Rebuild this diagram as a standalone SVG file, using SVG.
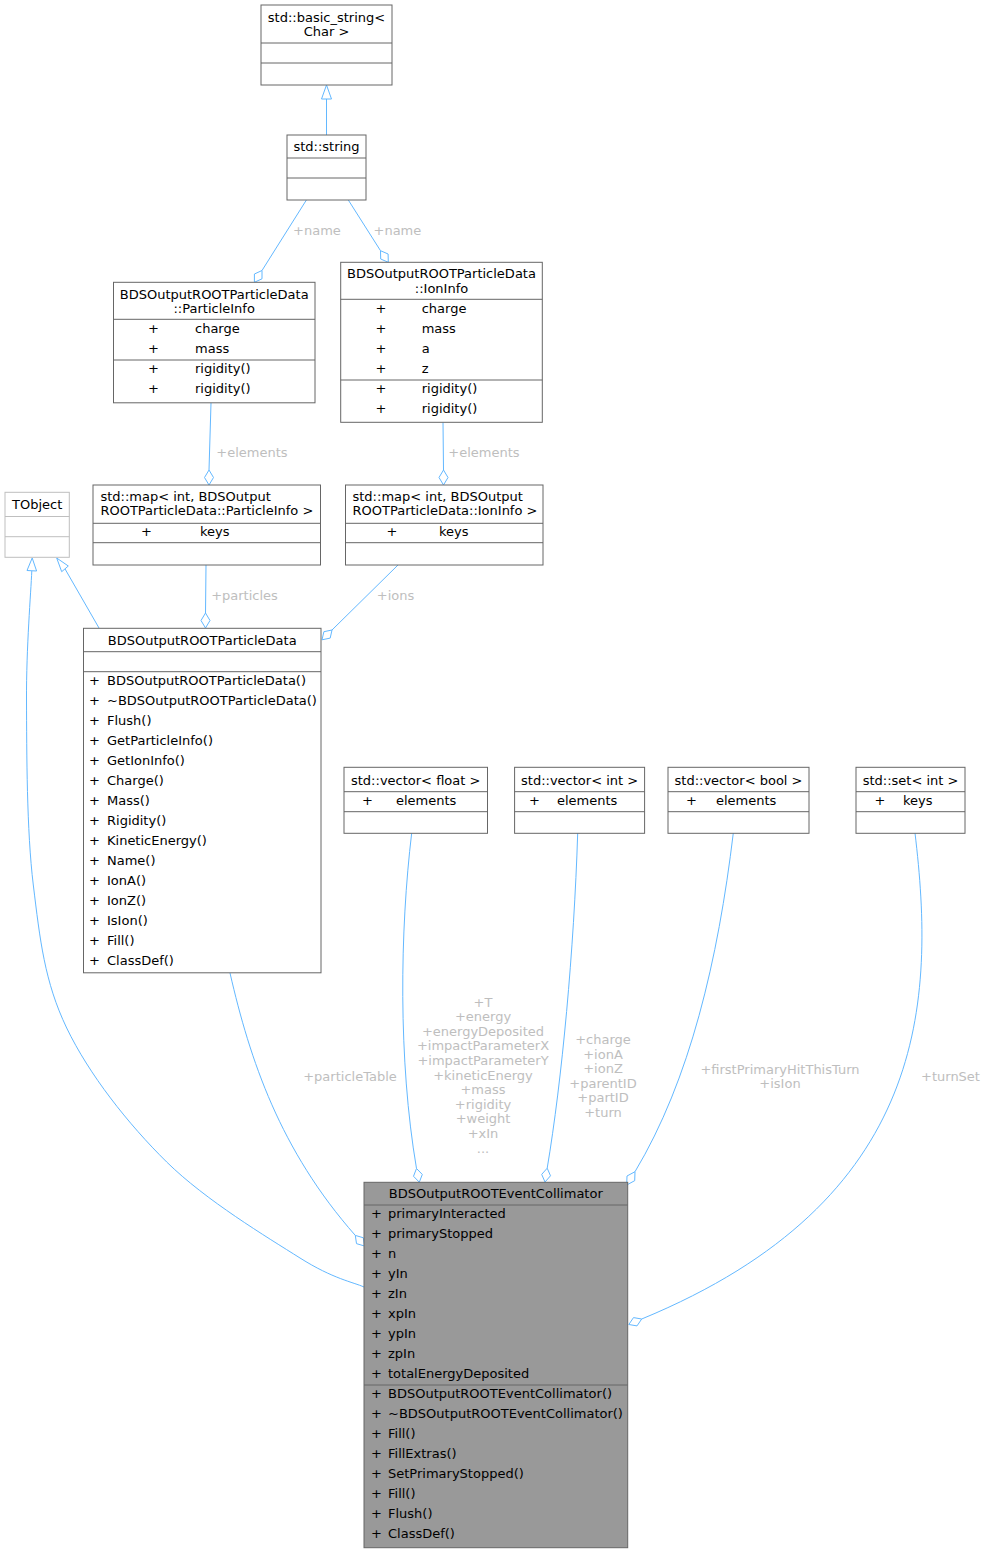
<svg xmlns="http://www.w3.org/2000/svg" width="985" height="1553" viewBox="0 0 985 1553">
<style>
.b{fill:#fff;stroke:#666;stroke-width:1}
.g{fill:#fff;stroke:#bfbfbf;stroke-width:1}
.m{fill:#999;stroke:#666;stroke-width:1}
.s{stroke:#666;stroke-width:1}
.sg{stroke:#bfbfbf;stroke-width:1}
text{font-family:"DejaVu Sans",sans-serif;font-size:13px;fill:#000}
.c{text-anchor:middle}
.l{fill:#bebebe;text-anchor:middle}
.e{fill:none;stroke:#63b8ff;stroke-width:1}
.h{fill:#fff;stroke:#63b8ff;stroke-width:1}
</style>
<rect width="985" height="1553" fill="#fff"/>
<g id="connectors">
<path class="e" d="M326.5,135 L326.5,99"/>
<polygon class="h" points="326.5,85 331.5,99 321.5,99"/>
<path class="e" d="M306.4,200 L262,270.5"/>
<polygon class="h" points="262,270.5 262,278.8 254.4,282.3 254.4,274"/>
<path class="e" d="M348.3,200 L380.5,250.7"/>
<polygon class="h" points="380.5,250.7 388.1,254 388.3,262.3 380.7,259"/>
<path class="e" d="M211,403 L209,470"/>
<polygon class="h" points="209,470 213.5,477.5 209,485 204.5,477.5"/>
<path class="e" d="M443,422.3 L443.5,470"/>
<polygon class="h" points="443.5,470 448,477.5 443.5,485 439,477.5"/>
<path class="e" d="M206,565 L205.5,613"/>
<polygon class="h" points="205.5,613 210,620.5 205.5,628 201,620.5"/>
<path class="e" d="M398,565 L332,630"/>
<polygon class="h" points="332,630 330.2,638.1 322,639.8 323.9,631.7"/>
<path class="e" d="M99,628 L65,568.9"/>
<polygon class="h" points="56.7,558 68.3,566 61.7,571.7"/>
<path class="e" d="M31.8,571 C30.9,592.5 26.25,647.7 26.5,700 C26.75,752.3 26.6,830.3 33.3,885 C40,939.7 44.5,981.8 66.7,1028 C88.9,1074.2 127.8,1123.7 166.7,1162 C205.6,1200.3 267.1,1237.2 300,1258 C332.9,1278.8 353.3,1282.2 364,1287"/>
<polygon class="h" points="32.2,558 36.6,571 27,570.5"/>
<path class="e" d="M230,973 C250,1060 280,1150 355.3,1235.4"/>
<polygon class="h" points="355.3,1235.4 363.3,1237.75 364.5,1246 356.5,1243.65"/>
<path class="e" d="M411.7,833 C400,930 398,1060 416.5,1168.5"/>
<polygon class="h" points="416.5,1168.5 422.3,1174.45 419.3,1182.2 413.5,1176.25"/>
<path class="e" d="M577.7,833 C574,950 562,1080 547.2,1168.2"/>
<polygon class="h" points="547.2,1168.2 550.5,1175.8 545,1182 541.7,1174.4"/>
<path class="e" d="M733.3,833 C718,960 690,1080 635,1171.7"/>
<polygon class="h" points="635,1171.7 634.7,1180.7 626.7,1185 627,1176"/>
<path class="e" d="M915,833 C935,1000 930,1200 641.7,1319"/>
<polygon class="h" points="641.7,1319 637,1325.9 628.8,1324.5 633.5,1317.6"/>
<text class="l" x="317" y="235">+name</text>
<text class="l" x="397.4" y="235">+name</text>
<text class="l" x="252" y="457">+elements</text>
<text class="l" x="484" y="457">+elements</text>
<text class="l" x="244.5" y="600">+particles</text>
<text class="l" x="395.5" y="599.5">+ions</text>
<text class="l" x="350" y="1081">+particleTable</text>
<text class="l" x="483" y="1006.5">+T</text>
<text class="l" x="483" y="1021.1">+energy</text>
<text class="l" x="483" y="1035.7">+energyDeposited</text>
<text class="l" x="483" y="1050.3">+impactParameterX</text>
<text class="l" x="483" y="1064.9">+impactParameterY</text>
<text class="l" x="483" y="1079.5">+kineticEnergy</text>
<text class="l" x="483" y="1094.1">+mass</text>
<text class="l" x="483" y="1108.7">+rigidity</text>
<text class="l" x="483" y="1123.3">+weight</text>
<text class="l" x="483" y="1137.9">+xIn</text>
<text class="l" x="483" y="1152.5">...</text>
<text class="l" x="603" y="1044">+charge</text>
<text class="l" x="603" y="1058.6">+ionA</text>
<text class="l" x="603" y="1073.2">+ionZ</text>
<text class="l" x="603" y="1087.8">+parentID</text>
<text class="l" x="603" y="1102.4">+partID</text>
<text class="l" x="603" y="1117">+turn</text>
<text class="l" x="780" y="1073.5">+firstPrimaryHitThisTurn</text>
<text class="l" x="780" y="1088.1">+isIon</text>
<text class="l" x="950.5" y="1081">+turnSet</text>
</g>
<g id="basic_string">
<rect class="b" x="261" y="5" width="131" height="80"/>
<line class="s" x1="261" y1="43" x2="392" y2="43"/>
<line class="s" x1="261" y1="63" x2="392" y2="63"/>
<text class="c" x="326.5" y="21.5">std::basic_string&lt;</text>
<text class="c" x="326.5" y="36">Char &gt;</text>
</g>
<g id="string">
<rect class="b" x="287" y="135" width="79" height="65"/>
<line class="s" x1="287" y1="158" x2="366" y2="158"/>
<line class="s" x1="287" y1="178" x2="366" y2="178"/>
<text class="c" x="326.5" y="151">std::string</text>
</g>
<g id="ParticleInfo">
<rect class="b" x="113.5" y="282.3" width="201.5" height="120.5"/>
<line class="s" x1="113.5" y1="319.3" x2="315" y2="319.3"/>
<line class="s" x1="113.5" y1="360" x2="315" y2="360"/>
<text class="c" x="214.2" y="298.5">BDSOutputROOTParticleData</text>
<text class="c" x="214.2" y="312.5">::ParticleInfo</text>
<text x="148" y="333">+</text><text x="195" y="333">charge</text>
<text x="148" y="353">+</text><text x="195" y="353">mass</text>
<text x="148" y="373">+</text><text x="195" y="373">rigidity()</text>
<text x="148" y="393">+</text><text x="195" y="393">rigidity()</text>
</g>
<g id="IonInfo">
<rect class="b" x="340.7" y="262.3" width="201.6" height="160"/>
<line class="s" x1="340.7" y1="299.3" x2="542.3" y2="299.3"/>
<line class="s" x1="340.7" y1="380" x2="542.3" y2="380"/>
<text class="c" x="441.5" y="278">BDSOutputROOTParticleData</text>
<text class="c" x="441.5" y="292.5">::IonInfo</text>
<text x="375.5" y="313">+</text><text x="421.7" y="313">charge</text>
<text x="375.5" y="333">+</text><text x="421.7" y="333">mass</text>
<text x="375.5" y="353">+</text><text x="421.7" y="353">a</text>
<text x="375.5" y="373">+</text><text x="421.7" y="373">z</text>
<text x="375.5" y="393">+</text><text x="421.7" y="393">rigidity()</text>
<text x="375.5" y="413">+</text><text x="421.7" y="413">rigidity()</text>
</g>
<g id="TObject">
<rect class="g" x="5" y="492.3" width="64.3" height="65"/>
<line class="sg" x1="5" y1="516.5" x2="69.3" y2="516.5"/>
<line class="sg" x1="5" y1="536.7" x2="69.3" y2="536.7"/>
<text class="c" x="37.2" y="509">TObject</text>
</g>
<g id="mapParticleInfo">
<rect class="b" x="93" y="485" width="227.5" height="80"/>
<line class="s" x1="93" y1="523.3" x2="320.5" y2="523.3"/>
<line class="s" x1="93" y1="542.7" x2="320.5" y2="542.7"/>
<text x="100.4" y="501">std::map&lt; int, BDSOutput</text>
<text x="100.4" y="515">ROOTParticleData::ParticleInfo &gt;</text>
<text x="141" y="536">+</text><text x="200" y="536">keys</text>
</g>
<g id="mapIonInfo">
<rect class="b" x="345.5" y="485" width="197.5" height="80"/>
<line class="s" x1="345.5" y1="523.3" x2="543" y2="523.3"/>
<line class="s" x1="345.5" y1="542.7" x2="543" y2="542.7"/>
<text x="352.5" y="501">std::map&lt; int, BDSOutput</text>
<text x="352.5" y="515">ROOTParticleData::IonInfo &gt;</text>
<text x="386.5" y="536">+</text><text x="439" y="536">keys</text>
</g>
<g id="ParticleData">
<rect class="b" x="83.5" y="628.3" width="237.5" height="344.5"/>
<line class="s" x1="83.5" y1="651.7" x2="321" y2="651.7"/>
<line class="s" x1="83.5" y1="671.7" x2="321" y2="671.7"/>
<text class="c" x="202.2" y="645">BDSOutputROOTParticleData</text>
<text x="89" y="685">+</text><text x="107" y="685">BDSOutputROOTParticleData()</text>
<text x="89" y="705">+</text><text x="107" y="705">~BDSOutputROOTParticleData()</text>
<text x="89" y="725">+</text><text x="107" y="725">Flush()</text>
<text x="89" y="745">+</text><text x="107" y="745">GetParticleInfo()</text>
<text x="89" y="765">+</text><text x="107" y="765">GetIonInfo()</text>
<text x="89" y="785">+</text><text x="107" y="785">Charge()</text>
<text x="89" y="805">+</text><text x="107" y="805">Mass()</text>
<text x="89" y="825">+</text><text x="107" y="825">Rigidity()</text>
<text x="89" y="845">+</text><text x="107" y="845">KineticEnergy()</text>
<text x="89" y="865">+</text><text x="107" y="865">Name()</text>
<text x="89" y="885">+</text><text x="107" y="885">IonA()</text>
<text x="89" y="905">+</text><text x="107" y="905">IonZ()</text>
<text x="89" y="925">+</text><text x="107" y="925">IsIon()</text>
<text x="89" y="945">+</text><text x="107" y="945">Fill()</text>
<text x="89" y="965">+</text><text x="107" y="965">ClassDef()</text>
</g>
<g id="vectorFloat">
<rect class="b" x="344" y="767.3" width="143.5" height="66"/>
<line class="s" x1="344" y1="791.7" x2="487.5" y2="791.7"/>
<line class="s" x1="344" y1="811.7" x2="487.5" y2="811.7"/>
<text class="c" x="415.7" y="785">std::vector&lt; float &gt;</text>
<text x="362" y="805">+</text><text x="396" y="805">elements</text>
</g>
<g id="vectorInt">
<rect class="b" x="514.6" y="767.3" width="130" height="66"/>
<line class="s" x1="514.6" y1="791.7" x2="644.6" y2="791.7"/>
<line class="s" x1="514.6" y1="811.7" x2="644.6" y2="811.7"/>
<text class="c" x="579.6" y="785">std::vector&lt; int &gt;</text>
<text x="529" y="805">+</text><text x="557" y="805">elements</text>
</g>
<g id="vectorBool">
<rect class="b" x="668" y="767.3" width="141" height="66"/>
<line class="s" x1="668" y1="791.7" x2="809" y2="791.7"/>
<line class="s" x1="668" y1="811.7" x2="809" y2="811.7"/>
<text class="c" x="738.5" y="785">std::vector&lt; bool &gt;</text>
<text x="686" y="805">+</text><text x="716" y="805">elements</text>
</g>
<g id="setInt">
<rect class="b" x="856" y="767.3" width="109" height="66"/>
<line class="s" x1="856" y1="791.7" x2="965" y2="791.7"/>
<line class="s" x1="856" y1="811.7" x2="965" y2="811.7"/>
<text class="c" x="910.5" y="785">std::set&lt; int &gt;</text>
<text x="874.5" y="805">+</text><text x="903" y="805">keys</text>
</g>
<g id="EventCollimator">
<rect class="m" x="364" y="1182.3" width="263.7" height="365.4"/>
<line class="s" x1="364" y1="1205" x2="627.7" y2="1205"/>
<line class="s" x1="364" y1="1385" x2="627.7" y2="1385"/>
<text class="c" x="495.8" y="1198">BDSOutputROOTEventCollimator</text>
<text x="371" y="1218">+</text><text x="388" y="1218">primaryInteracted</text>
<text x="371" y="1238">+</text><text x="388" y="1238">primaryStopped</text>
<text x="371" y="1258">+</text><text x="388" y="1258">n</text>
<text x="371" y="1278">+</text><text x="388" y="1278">yIn</text>
<text x="371" y="1298">+</text><text x="388" y="1298">zIn</text>
<text x="371" y="1318">+</text><text x="388" y="1318">xpIn</text>
<text x="371" y="1338">+</text><text x="388" y="1338">ypIn</text>
<text x="371" y="1358">+</text><text x="388" y="1358">zpIn</text>
<text x="371" y="1378">+</text><text x="388" y="1378">totalEnergyDeposited</text>
<text x="371" y="1398">+</text><text x="388" y="1398">BDSOutputROOTEventCollimator()</text>
<text x="371" y="1418">+</text><text x="388" y="1418">~BDSOutputROOTEventCollimator()</text>
<text x="371" y="1438">+</text><text x="388" y="1438">Fill()</text>
<text x="371" y="1458">+</text><text x="388" y="1458">FillExtras()</text>
<text x="371" y="1478">+</text><text x="388" y="1478">SetPrimaryStopped()</text>
<text x="371" y="1498">+</text><text x="388" y="1498">Fill()</text>
<text x="371" y="1518">+</text><text x="388" y="1518">Flush()</text>
<text x="371" y="1538">+</text><text x="388" y="1538">ClassDef()</text>
</g>
</svg>
